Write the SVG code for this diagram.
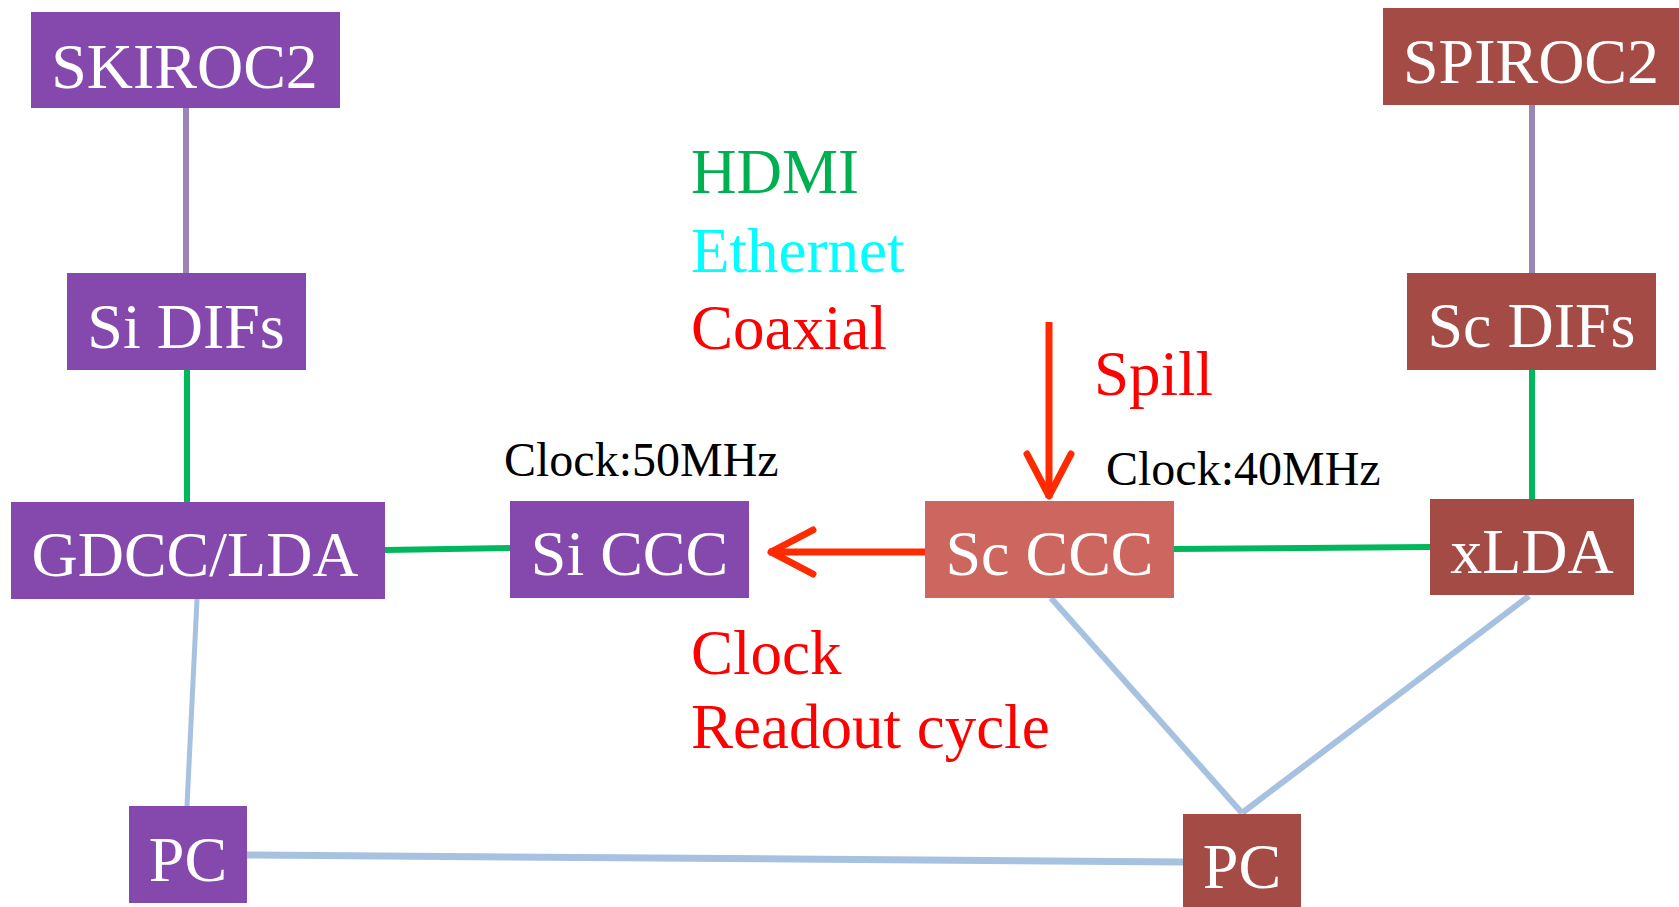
<svg xmlns="http://www.w3.org/2000/svg" width="1679" height="907" viewBox="0 0 1679 907">
<style>
.si{fill:#8549AE}
.sc{fill:#A54B45}
.scl{fill:#CD665F}
.lbl{font-family:"Liberation Serif","Times New Roman",serif;font-size:64px;fill:#FFFFFF;text-anchor:middle}
.txt{font-family:"Liberation Serif","Times New Roman",serif;font-size:63px}
.clk{font-family:"Liberation Serif","Times New Roman",serif;font-size:48px;fill:#000000}
.hdmi{stroke:#00B75C;stroke-width:6;fill:none}
.eth{stroke:#A7C1E0;fill:none}
.chip{stroke:#9A84B8;stroke-width:6;fill:none}
.coax{stroke:#FF2A00;stroke-width:7;fill:none}
</style>
<defs>
<marker id="chev" markerUnits="userSpaceOnUse" markerWidth="60" markerHeight="60" viewBox="-50 -30 60 60" refX="0" refY="0" orient="auto" overflow="visible">
<path d="M-44,-22 L-2,0 L-44,22" fill="none" stroke="#FF2A00" stroke-width="7" stroke-linecap="round" stroke-linejoin="round"/>
</marker>
</defs>
<rect width="1679" height="907" fill="#FFFFFF"/>
<g id="connectors">
<line class="chip" x1="186" y1="108" x2="186" y2="273"/>
<line class="chip" x1="1532" y1="105" x2="1532" y2="273"/>
<line class="hdmi" x1="187" y1="370" x2="187" y2="502"/>
<line class="hdmi" x1="1532" y1="370" x2="1532" y2="499"/>
<line class="hdmi" x1="385" y1="550" x2="510" y2="548"/>
<line class="hdmi" x1="1174" y1="549" x2="1430" y2="547"/>
<line class="eth" stroke-width="5" x1="197" y1="599" x2="187" y2="806"/>
<line class="eth" stroke-width="7" x1="247" y1="855" x2="1183" y2="862"/>
<line class="eth" stroke-width="6" x1="1051" y1="598" x2="1242" y2="813"/>
<line class="eth" stroke-width="6" x1="1529" y1="596" x2="1242" y2="813"/>
<line class="coax" x1="925" y1="552" x2="769" y2="552" marker-end="url(#chev)"/>
<line class="coax" stroke-width="5" x1="1049" y1="322" x2="1049" y2="498" marker-end="url(#chev)"/>
</g>
<g id="skiroc2"><rect class="si" x="31" y="12" width="309" height="96"/><text class="lbl" x="184.5" y="88">SKIROC2</text></g>
<g id="si-difs"><rect class="si" x="67" y="273" width="239" height="97"/><text class="lbl" x="186" y="348">Si DIFs</text></g>
<g id="gdcc-lda"><rect class="si" x="11" y="502" width="374" height="97"/><text class="lbl" x="195" y="576">GDCC/LDA</text></g>
<g id="si-ccc"><rect class="si" x="510" y="501" width="239" height="97"/><text class="lbl" x="629.5" y="575">Si CCC</text></g>
<g id="pc-left"><rect class="si" x="129" y="806" width="118" height="97"/><text class="lbl" x="188" y="881">PC</text></g>
<g id="spiroc2"><rect class="sc" x="1383" y="8" width="296" height="97"/><text class="lbl" x="1531" y="83">SPIROC2</text></g>
<g id="sc-difs"><rect class="sc" x="1407" y="273" width="249" height="97"/><text class="lbl" x="1531.5" y="347">Sc DIFs</text></g>
<g id="xlda"><rect class="sc" x="1430" y="499" width="204" height="96"/><text class="lbl" x="1532" y="573">xLDA</text></g>
<g id="sc-ccc"><rect class="scl" x="925" y="501" width="249" height="97"/><text class="lbl" x="1049.5" y="575">Sc CCC</text></g>
<g id="pc-right"><rect class="sc" x="1183" y="814" width="118" height="93"/><text class="lbl" x="1242" y="888">PC</text></g>
<g id="legend">
<text class="txt" x="691" y="193" fill="#00B050">HDMI</text>
<text class="txt" x="691" y="272" fill="#00FFFF">Ethernet</text>
<text class="txt" x="691" y="349" fill="#FF0000">Coaxial</text>
</g>
<g id="labels">
<text class="txt" x="1094" y="395" fill="#FF0000">Spill</text>
<text class="clk" x="504" y="476">Clock:50MHz</text>
<text class="clk" x="1106" y="485">Clock:40MHz</text>
<text class="txt" x="691" y="674" fill="#FF0000">Clock</text>
<text class="txt" x="691" y="748" fill="#FF0000">Readout cycle</text>
</g>
</svg>
